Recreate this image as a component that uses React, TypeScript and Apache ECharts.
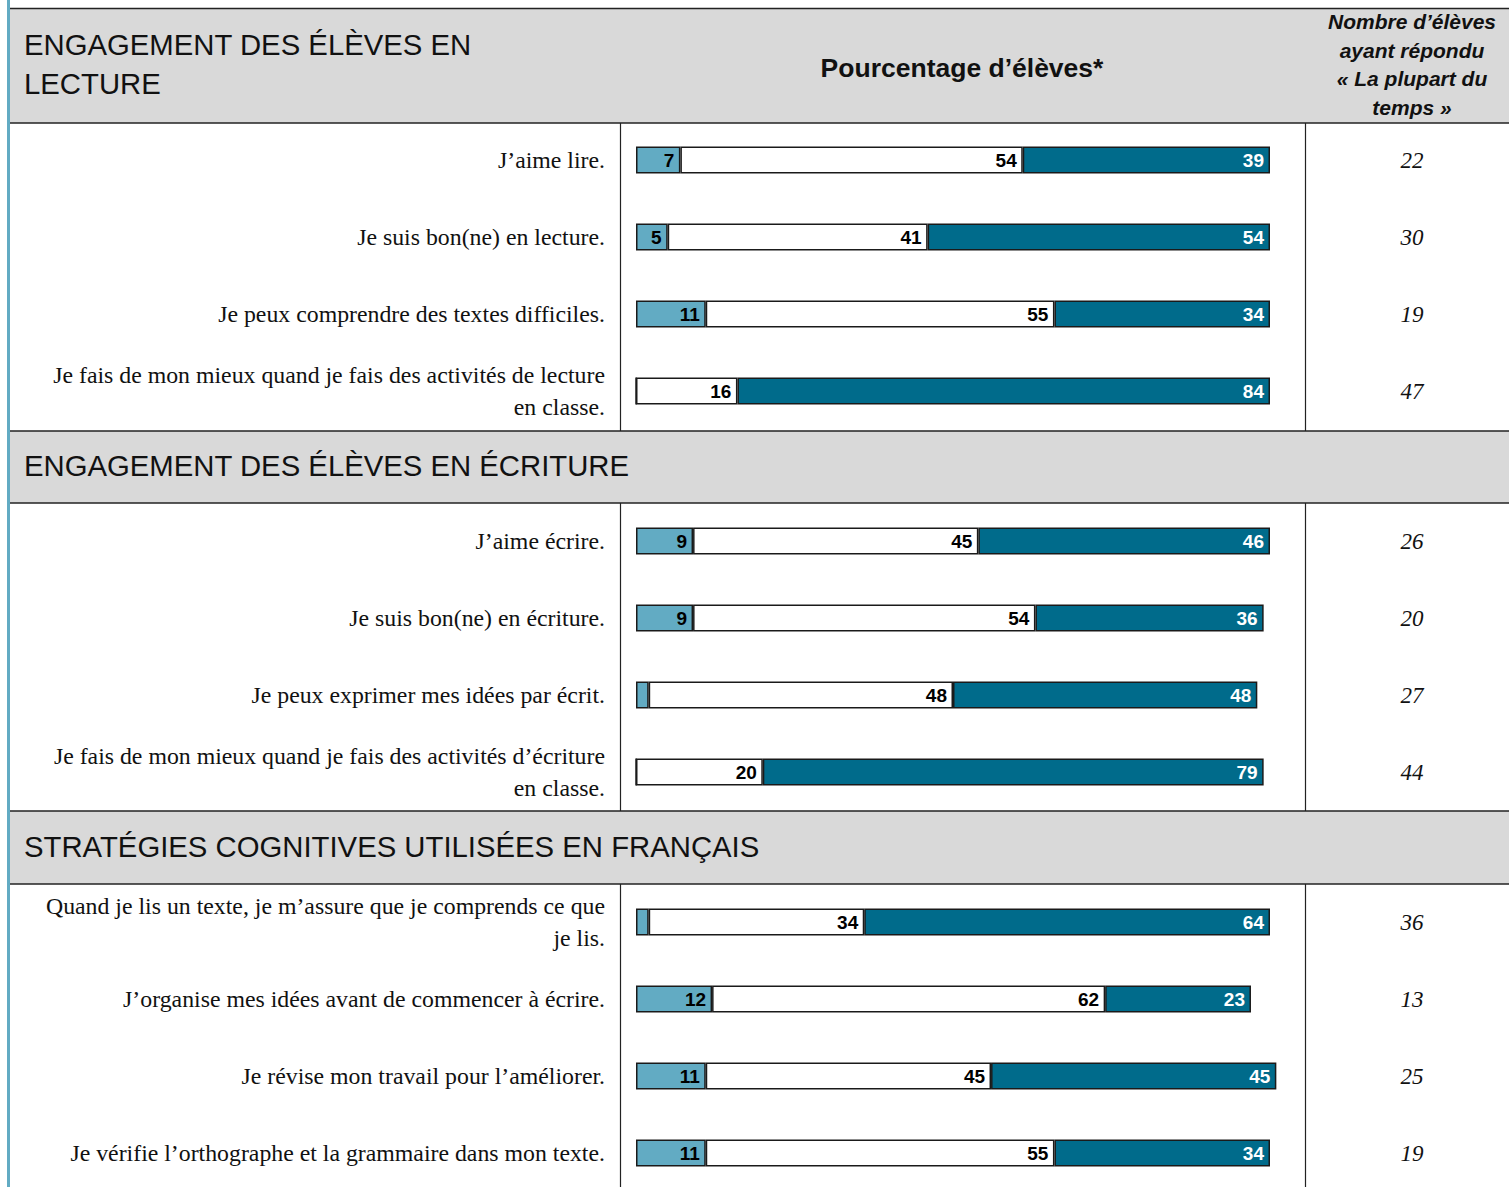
import React, { useEffect, useRef } from "react";
import * as echarts from "echarts";

// ---- Data ----
const lectureLabels = [
  "J’aime lire.",
  "Je suis bon(ne) en lecture.",
  "Je peux comprendre des textes difficiles.",
  "Je fais de mon mieux quand je fais des activités de lecture\nen classe.",
];
const lectureRarely = [7, 5, 11, 0];
const lectureSometimes = [54, 41, 55, 16];
const lectureMost = [39, 54, 34, 84];
const lectureCounts = ["22", "30", "19", "47"];

const ecritureLabels = [
  "J’aime écrire.",
  "Je suis bon(ne) en écriture.",
  "Je peux exprimer mes idées par écrit.",
  "Je fais de mon mieux quand je fais des activités d’écriture\nen classe.",
];
const ecritureRarely = [9, 9, 2, 0];
const ecritureSometimes = [45, 54, 48, 20];
const ecritureMost = [46, 36, 48, 79];
const ecritureCounts = ["26", "20", "27", "44"];

const strategieLabels = [
  "Quand je lis un texte, je m’assure que je comprends ce que\nje lis.",
  "J’organise mes idées avant de commencer à écrire.",
  "Je révise mon travail pour l’améliorer.",
  "Je vérifie l’orthographe et la grammaire dans mon texte.",
];
const strategieRarely = [2, 12, 11, 11];
const strategieSometimes = [34, 62, 45, 55];
const strategieMost = [64, 23, 45, 34];
const strategieCounts = ["36", "13", "25", "19"];

const sectionTitles = [
  "ENGAGEMENT DES ÉLÈVES EN\nLECTURE",
  "ENGAGEMENT DES ÉLÈVES EN ÉCRITURE",
  "STRATÉGIES COGNITIVES UTILISÉES EN FRANÇAIS",
];
const middleHeader = "Pourcentage d’élèves*";
const rightHeader = "Nombre d’élèves\nayant répondu\n« La plupart du\ntemps »";

const sections = [
  { labels: lectureLabels, rarely: lectureRarely, sometimes: lectureSometimes, most: lectureMost, counts: lectureCounts },
  { labels: ecritureLabels, rarely: ecritureRarely, sometimes: ecritureSometimes, most: ecritureMost, counts: ecritureCounts },
  { labels: strategieLabels, rarely: strategieRarely, sometimes: strategieSometimes, most: strategieMost, counts: strategieCounts },
];

// ---- Styles ----
const LIGHT = "#62abc3";
const DARK = "#006b8b";
const GRAY = "#d9d9d9";
const BORDER = "#1a1a1a";
const W = 1509;
const H = 1187;
const CH = 1220; // chart height (taller than the page so the last grid is not clamped)
const gridTops = [121.5, 502.5, 883.5];
const GRID_H = 308;
const GRID_LEFT = 636;
const GRID_W = 634;
const barFont = '"Liberation Sans Narrow", "Arial Narrow", "Liberation Sans", Arial, sans-serif';
const titleFont = '29.3px "Liberation Sans", Arial, sans-serif';

export default function App() {
  const ref = useRef<HTMLDivElement>(null);
  useEffect(() => {
    if (!ref.current) return;
    const chart = echarts.init(ref.current, undefined, { renderer: "svg" });

    const grids: any[] = [];
    const xAxes: any[] = [];
    const yAxes: any[] = [];
    const series: any[] = [];

    sections.forEach((s, i) => {
      grids.push({ left: GRID_LEFT, top: gridTops[i], width: GRID_W, height: GRID_H, containLabel: false });
      xAxes.push({ type: "value", gridIndex: i, min: 0, max: 100, show: false });
      yAxes.push({
        type: "category",
        gridIndex: i,
        inverse: true,
        data: s.labels,
        axisLine: { show: false },
        axisTick: { show: false },
        axisLabel: {
          margin: 31,
          align: "right",
          fontFamily: '"Liberation Serif", "Times New Roman", serif',
          fontSize: 23.8,
          lineHeight: 32,
          color: "#111",
        },
      });
      yAxes.push({
        type: "category",
        gridIndex: i,
        inverse: true,
        position: "right",
        data: s.counts,
        axisLine: { show: false },
        axisTick: { show: false },
        axisLabel: {
          margin: 142,
          align: "center",
          fontFamily: '"Liberation Serif", "Times New Roman", serif',
          fontStyle: "italic",
          fontSize: 23,
          color: "#111",
        },
      });
      const mk = (name: string, data: number[], color: string, labelColor: string) => ({
        type: "bar",
        name,
        stack: "s" + i,
        xAxisIndex: i,
        yAxisIndex: i * 2,
        barWidth: 27,
        clip: false,
        data,
        itemStyle: { color, borderColor: BORDER, borderWidth: 1.5 },
        label: {
          show: true,
          position: "insideRight",
          distance: 6,
          formatter: (p: any) => (p.value >= 4 ? String(p.value) : ""),
          color: labelColor,
          fontWeight: "bold",
          fontSize: 19,
          fontFamily: barFont,
        },
      });
      series.push(mk("rarely", s.rarely, LIGHT, "#000"));
      series.push(mk("sometimes", s.sometimes, "#ffffff", "#000"));
      series.push(mk("most", s.most, DARK, "#fff"));
    });

    const lineStyle = { stroke: "#222", lineWidth: 1.5 };
    const graphic: any[] = [
      // header backgrounds
      { type: "rect", shape: { x: 10, y: 9, width: W - 10, height: 114 }, style: { fill: GRAY }, z: -10 },
      { type: "rect", shape: { x: 10, y: 431, width: W - 10, height: 72 }, style: { fill: GRAY }, z: -10 },
      { type: "rect", shape: { x: 10, y: 811, width: W - 10, height: 73 }, style: { fill: GRAY }, z: -10 },
      // horizontal lines
      ...[8.5, 123, 431, 503, 811, 884].map((y) => ({
        type: "line",
        shape: { x1: 9, y1: y, x2: W, y2: y },
        style: lineStyle,
        z: -5,
      })),
      // vertical column lines
      ...[[123, 431], [503, 811], [884, CH]].flatMap(([a, b]) =>
        [620.5, 1305.5].map((x) => ({
          type: "line",
          shape: { x1: x, y1: a, x2: x, y2: b },
          style: { stroke: "#222", lineWidth: 1.2 },
          z: -5,
        }))
      ),
      // left blue border
      { type: "rect", shape: { x: 7, y: 0, width: 3, height: CH }, style: { fill: LIGHT }, z: -4 },
      // section titles
      {
        type: "text",
        x: 24,
        y: 63.5,
        style: {
          text: sectionTitles[0],
          font: titleFont,
          fill: "#111",
          lineHeight: 39,
          textAlign: "left",
          textVerticalAlign: "middle",
        },
      },
      {
        type: "text",
        x: 24,
        y: 465,
        style: {
          text: sectionTitles[1],
          font: titleFont,
          fill: "#111",
          textAlign: "left",
          textVerticalAlign: "middle",
        },
      },
      {
        type: "text",
        x: 24,
        y: 846,
        style: {
          text: sectionTitles[2],
          font: titleFont,
          fill: "#111",
          textAlign: "left",
          textVerticalAlign: "middle",
        },
      },
      {
        type: "text",
        x: 962,
        y: 68,
        style: {
          text: middleHeader,
          font: 'bold 26.5px "Liberation Sans", Arial, sans-serif',
          fill: "#111",
          textAlign: "center",
          textVerticalAlign: "middle",
        },
      },
      {
        type: "text",
        x: 1412,
        y: 64.5,
        style: {
          text: rightHeader,
          font: 'italic bold 21px "Liberation Sans", Arial, sans-serif',
          fill: "#111",
          lineHeight: 28.5,
          textAlign: "center",
          textVerticalAlign: "middle",
        },
      },
    ];

    chart.setOption({
      animation: false,
      backgroundColor: "#ffffff",
      grid: grids,
      xAxis: xAxes,
      yAxis: yAxes,
      series,
      graphic,
    });
    return () => chart.dispose();
  }, []);

  return (
    <div
      style={{ position: "absolute", left: 0, top: 0, width: W, height: H, overflow: "hidden" }}
    >
      <div ref={ref} style={{ width: W, height: CH }} />
    </div>
  );
}
